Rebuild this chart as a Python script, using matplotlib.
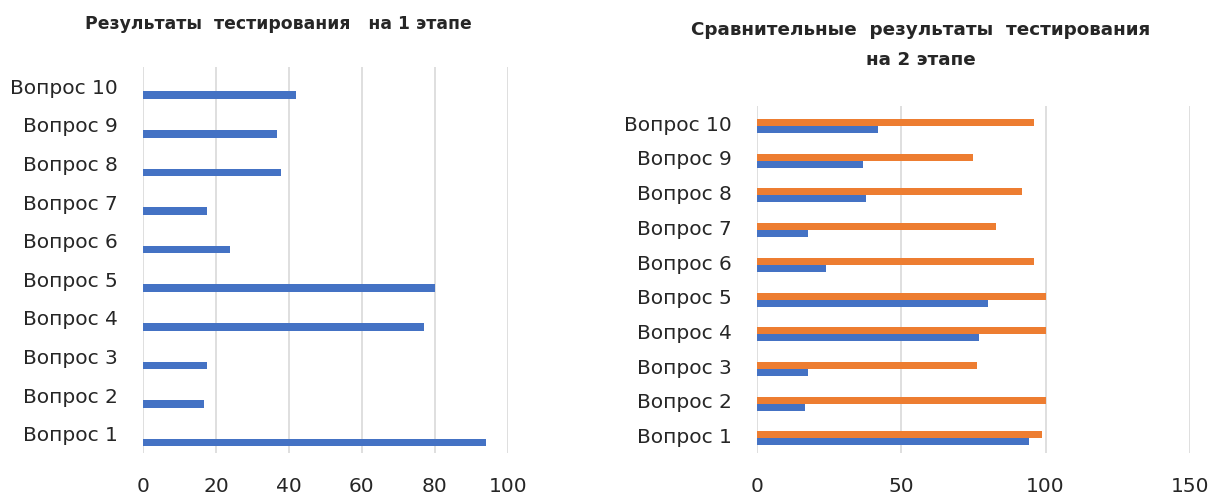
import numpy as np
import matplotlib.pyplot as plt

plt.rcParams['font.family'] = ['DejaVu Sans']

questions = ['Вопрос 1', 'Вопрос 2', 'Вопрос 3', 'Вопрос 4', 'Вопрос 5',
             'Вопрос 6', 'Вопрос 7', 'Вопрос 8', 'Вопрос 9', 'Вопрос 10']
stage1 = [94.1, 16.7, 17.6, 77.0, 80.1, 23.8, 17.6, 37.8, 36.7, 42.0]
stage2 = [98.9, 100, 76.3, 100, 100, 96.1, 83.0, 92.0, 74.8, 96.1]
left_ticks = [0, 20, 40, 60, 80, 100]
right_ticks = [0, 50, 100, 150]

blue = '#4472C4'
orange = '#ED7D31'
grid_color = '#d9d9d9'
text_color = '#262626'

fig = plt.figure(figsize=(12.16, 4.97), dpi=100)
ax1 = fig.add_axes([0.1176, 0.0885, 0.300, 0.7765])
ax2 = fig.add_axes([0.6225, 0.0885, 0.356, 0.6985])

y = np.arange(len(questions))
h = 0.2

# stage 1: single series sitting in the lower half of each category
ax1.barh(y - 0.23, stage1, height=h, color=blue)

# stage 2: orange on top, blue just below
ax2.barh(y - 0.08 + h / 2, stage2, height=h, color=orange)
ax2.barh(y - 0.08 - h / 2, stage1, height=h, color=blue)

for ax, ticks in ((ax1, left_ticks), (ax2, right_ticks)):
    ax.set_xlim(ticks[0], ticks[-1])
    ax.set_ylim(-0.5, len(questions) - 0.5)
    ax.set_xticks(ticks)
    ax.set_yticks(y)
    ax.set_yticklabels(questions)
    ax.grid(axis='x', color=grid_color, linewidth=1.2)
    ax.set_axisbelow(True)
    for s in ax.spines.values():
        s.set_visible(False)
    ax.tick_params(axis='both', length=0, labelsize=14.5, colors=text_color)
    ax.tick_params(axis='x', pad=17)
    ax.tick_params(axis='y', pad=18)

fig.text(0.229, 0.951, 'Результаты  тестирования   на 1 этапе',
         ha='center', va='center', fontsize=12.4, fontweight='bold', color=text_color)
fig.text(0.757, 0.909, 'Сравнительные  результаты  тестирования\nна 2 этапе',
         ha='center', va='center', fontsize=13.2, fontweight='bold',
         color=text_color, linespacing=1.85)

fig.savefig('out.png', dpi=100)
